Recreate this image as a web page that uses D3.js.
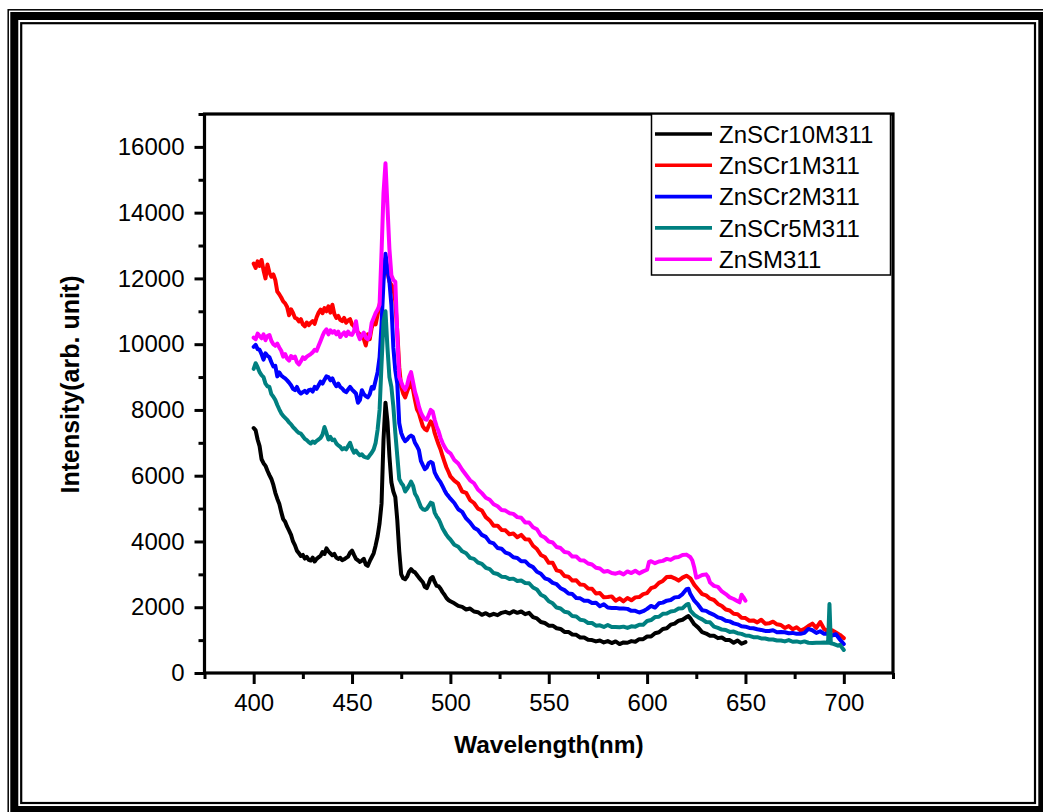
<!DOCTYPE html>
<html>
<head>
<meta charset="utf-8">
<script src="https://cdn.jsdelivr.net/npm/d3@7"></script>
<style>
  html, body { margin: 0; padding: 0; background: #fff; }
  svg { display: block; }
  text { font-family: "Liberation Sans", Arial, Helvetica, sans-serif; fill: #000; }
</style>
</head>
<body>
<svg id="chart" width="1043" height="812"></svg>
<script>
// Photoluminescence spectra, [wavelength nm, intensity]
const seriesNames  = ["ZnSCr10M311", "ZnSCr1M311", "ZnSCr2M311", "ZnSCr5M311", "ZnSM311"];
const seriesColors = ["#000000", "#ff0000", "#0000ff", "#008080", "#ff00ff"];

const znsCr10 = [[400,7450],[401,7380],[402,7100],[403,6900],[404,6500],[405,6380],[406,6300],[407,6150],[408,6020],[409,5900],[410,5720],[411,5480],[412,5300],[413,5150],[414,4900],[415,4680],[416,4600],[417,4450],[418,4330],[419,4200],[420,4000],[421,3880],[422,3720],[423,3640],[424,3560],[425,3590],[426,3480],[427,3530],[428,3440],[429,3420],[430,3510],[431,3390],[432,3470],[433,3520],[434,3560],[435,3680],[436,3620],[437,3790],[438,3700],[439,3640],[440,3580],[441,3620],[442,3510],[443,3470],[444,3500],[445,3430],[446,3460],[447,3500],[448,3540],[449,3660],[450,3720],[451,3590],[452,3470],[453,3430],[454,3380],[455,3420],[456,3470],[457,3300],[458,3260],[459,3400],[460,3520],[461,3640],[462,3880],[463,4160],[464,4550],[465,5150],[466,7100],[467,8220],[468,7650],[469,6600],[470,5800],[471,5520],[472,5350],[473,4650],[474,3700],[475,3000],[476,2880],[477,2850],[478,2930],[479,3080],[480,3160],[481,3090],[482,3060],[483,2980],[484,2900],[485,2830],[486,2760],[487,2620],[488,2580],[489,2720],[490,2880],[491,2920],[492,2770],[493,2650],[494,2640],[495,2560],[496,2460],[497,2380],[498,2280],[499,2220],[500,2180],[502,2120],[504,2040],[506,2010],[508,1930],[510,1960],[512,1870],[514,1850],[516,1770],[518,1820],[520,1750],[522,1800],[524,1760],[526,1830],[528,1860],[530,1810],[532,1880],[534,1830],[536,1870],[538,1790],[540,1830],[542,1700],[544,1660],[546,1550],[548,1520],[550,1440],[552,1440],[554,1360],[556,1340],[558,1250],[560,1250],[562,1170],[564,1160],[566,1080],[568,1080],[570,1010],[572,1000],[574,960],[576,990],[578,930],[580,970],[582,910],[584,960],[586,880],[588,930],[590,920],[592,970],[594,950],[596,1030],[598,1030],[600,1110],[602,1110],[604,1210],[606,1240],[608,1340],[610,1360],[612,1470],[614,1500],[616,1590],[618,1620],[620,1700],[621,1730],[622,1660],[624,1480],[626,1380],[628,1240],[630,1200],[632,1130],[634,1130],[636,1060],[638,1080],[640,1000],[642,1000],[644,920],[646,990],[648,890],[650,940]];

const znsCr1 = [[400,12450],[401,12320],[402,12520],[403,12380],[404,12560],[405,12250],[406,12000],[407,12420],[408,12180],[409,12050],[410,12120],[411,11950],[412,11600],[413,11520],[414,11420],[415,11300],[416,11240],[417,11130],[418,10880],[419,11060],[420,10950],[421,10800],[422,10780],[423,10690],[424,10760],[425,10600],[426,10540],[427,10660],[428,10580],[429,10650],[430,10700],[431,10620],[432,10820],[433,10960],[434,11050],[435,10940],[436,11100],[437,11000],[438,11150],[439,10960],[440,11200],[441,10920],[442,10800],[443,10860],[444,10740],[445,10700],[446,10800],[447,10650],[448,10720],[449,10760],[450,10600],[451,10540],[452,10440],[453,10360],[454,10300],[455,10240],[456,10150],[457,9960],[458,10300],[459,10150],[460,10500],[461,10660],[462,10600],[463,10900],[464,11200],[465,11500],[466,12300],[467,12600],[468,12200],[469,11900],[470,11800],[471,11720],[472,11300],[473,10400],[474,9300],[475,8700],[476,8500],[477,8380],[478,8560],[479,8720],[480,8850],[481,8620],[482,8300],[483,8020],[484,7900],[485,7700],[486,7500],[487,7420],[488,7380],[489,7520],[490,7650],[491,7560],[492,7300],[493,7120],[494,6950],[495,6800],[496,6600],[497,6420],[498,6250],[499,6120],[500,5980],[502,5850],[504,5760],[506,5520],[508,5480],[510,5260],[512,5170],[514,5000],[516,4940],[518,4740],[520,4640],[522,4480],[524,4480],[526,4350],[528,4340],[530,4220],[532,4240],[534,4130],[536,4200],[538,4070],[540,4060],[542,3870],[544,3770],[546,3590],[548,3530],[550,3350],[552,3350],[554,3120],[556,3090],[558,2950],[560,2930],[562,2810],[564,2820],[566,2690],[568,2680],[570,2570],[572,2560],[574,2420],[576,2430],[578,2300],[580,2310],[582,2330],[584,2200],[586,2270],[588,2180],[590,2280],[592,2210],[594,2300],[596,2310],[598,2400],[600,2430],[602,2580],[604,2620],[606,2740],[608,2800],[610,2920],[612,2930],[614,2880],[616,2810],[618,2900],[620,2960],[622,2880],[624,2680],[626,2540],[628,2400],[630,2360],[632,2260],[634,2220],[636,2100],[638,2040],[640,1930],[642,1900],[644,1800],[646,1790],[648,1680],[650,1670],[652,1590],[654,1600],[656,1540],[658,1620],[660,1500],[662,1510],[664,1560],[666,1480],[668,1460],[670,1370],[672,1430],[674,1330],[676,1390],[678,1290],[680,1340],[682,1430],[684,1500],[686,1370],[688,1550],[690,1340],[692,1270],[694,1300],[696,1230],[698,1160],[700,1060]];

const znsCr2 = [[400,9920],[401,9980],[402,9850],[403,9830],[404,9700],[405,9530],[406,9720],[407,9650],[408,9600],[409,9450],[410,9320],[411,9340],[412,9020],[413,9140],[414,9050],[415,9000],[416,8960],[417,8900],[418,8830],[419,8750],[420,8640],[421,8600],[422,8700],[423,8560],[424,8500],[425,8540],[426,8580],[427,8520],[428,8600],[429,8620],[430,8560],[431,8700],[432,8640],[433,8750],[434,8860],[435,8800],[436,8920],[437,9020],[438,9000],[439,8900],[440,8960],[441,8820],[442,8720],[443,8800],[444,8700],[445,8650],[446,8580],[447,8540],[448,8620],[449,8700],[450,8620],[451,8560],[452,8500],[453,8220],[454,8300],[455,8600],[456,8480],[457,8420],[458,8380],[459,8480],[460,8700],[461,8650],[462,8900],[463,9150],[464,9600],[465,10600],[466,11900],[467,12750],[468,12300],[469,11900],[470,11200],[471,9900],[472,9200],[473,8800],[474,7600],[475,7300],[476,7150],[477,7050],[478,7100],[479,7180],[480,7220],[481,7180],[482,7000],[483,6900],[484,6780],[485,6450],[486,6320],[487,6200],[488,6250],[489,6380],[490,6420],[491,6380],[492,6100],[493,5980],[494,5880],[495,5800],[496,5680],[497,5560],[498,5450],[499,5380],[500,5300],[502,5170],[504,4980],[506,4900],[508,4700],[510,4580],[512,4420],[514,4350],[516,4200],[518,4140],[520,3980],[522,3940],[524,3800],[526,3780],[528,3660],[530,3620],[532,3520],[534,3500],[536,3400],[538,3400],[540,3280],[542,3220],[544,3080],[546,3020],[548,2880],[550,2840],[552,2740],[554,2700],[556,2580],[558,2520],[560,2420],[562,2400],[564,2280],[566,2270],[568,2200],[570,2200],[572,2130],[574,2140],[576,2030],[578,2090],[580,1990],[582,1980],[584,1980],[586,1960],[588,1960],[590,1950],[592,1890],[594,1890],[596,1840],[598,1880],[600,1950],[602,2040],[604,1990],[606,2120],[608,2140],[610,2200],[612,2220],[614,2300],[616,2310],[618,2400],[620,2550],[621,2560],[622,2400],[624,2200],[626,2070],[628,1910],[630,1890],[632,1820],[634,1770],[636,1690],[638,1660],[640,1590],[642,1570],[644,1510],[646,1480],[648,1420],[650,1410],[652,1370],[654,1360],[656,1330],[658,1310],[660,1280],[662,1280],[664,1300],[666,1240],[668,1250],[670,1240],[672,1210],[674,1220],[676,1190],[678,1190],[680,1220],[682,1340],[684,1300],[686,1220],[688,1270],[690,1190],[692,1190],[694,1140],[696,1180],[698,1020],[700,880]];

const znsCr5 = [[400,9250],[401,9420],[402,9300],[403,9150],[404,9060],[405,9000],[406,8800],[407,8720],[408,8700],[409,8480],[410,8400],[411,8300],[412,8150],[413,8020],[414,7900],[415,7820],[416,7760],[417,7700],[418,7620],[419,7560],[420,7480],[421,7420],[422,7350],[423,7300],[424,7280],[425,7200],[426,7120],[427,7080],[428,7020],[429,6980],[430,7040],[431,7000],[432,7060],[433,7100],[434,7150],[435,7250],[436,7480],[437,7300],[438,7100],[439,7180],[440,7080],[441,7100],[442,6980],[443,6920],[444,6880],[445,6800],[446,6840],[447,6800],[448,6900],[449,7000],[450,6820],[451,6700],[452,6760],[453,6680],[454,6620],[455,6650],[456,6580],[457,6560],[458,6540],[459,6620],[460,6700],[461,6800],[462,7000],[463,7400],[464,8000],[465,9400],[466,10700],[467,11000],[468,9900],[469,9000],[470,8700],[471,8100],[472,7300],[473,6600],[474,5900],[475,5780],[476,5700],[477,5520],[478,5600],[479,5700],[480,5820],[481,5700],[482,5450],[483,5350],[484,5200],[485,5050],[486,4980],[487,4960],[488,4990],[489,5080],[490,5180],[491,5150],[492,4880],[493,4760],[494,4680],[495,4550],[496,4400],[497,4300],[498,4200],[499,4120],[500,4060],[502,3900],[504,3840],[506,3700],[508,3640],[510,3500],[512,3470],[514,3360],[516,3320],[518,3200],[520,3160],[522,3040],[524,3010],[526,2930],[528,2920],[530,2860],[532,2870],[534,2800],[536,2810],[538,2740],[540,2730],[542,2600],[544,2540],[546,2380],[548,2320],[550,2180],[552,2120],[554,1990],[556,1960],[558,1860],[560,1840],[562,1730],[564,1720],[566,1620],[568,1600],[570,1520],[572,1520],[574,1440],[576,1450],[578,1400],[580,1460],[582,1400],[584,1400],[586,1390],[588,1410],[590,1370],[592,1420],[594,1410],[596,1470],[598,1470],[600,1580],[602,1610],[604,1700],[606,1710],[608,1800],[610,1810],[612,1870],[614,1890],[616,1960],[618,1970],[620,2080],[621,2100],[622,1900],[624,1770],[626,1690],[628,1630],[630,1550],[632,1540],[634,1410],[636,1370],[638,1320],[640,1310],[642,1250],[644,1260],[646,1210],[648,1190],[650,1140],[652,1130],[654,1090],[656,1090],[658,1050],[660,1050],[662,1020],[664,1020],[666,990],[668,990],[670,960],[672,1000],[674,950],[676,960],[678,930],[680,960],[682,920],[684,910],[686,920],[688,920],[690,930],[692,920],[692.7,2100],[693.4,900],[695,880],[697,830],[698,860],[699,780],[700,700]];

const znsM = [[400,10200],[401,10150],[402,10320],[403,10250],[404,10180],[405,10300],[406,10120],[407,10250],[408,10280],[409,10100],[410,10000],[411,9950],[412,10020],[413,9900],[414,9800],[415,9620],[416,9700],[417,9560],[418,9500],[419,9640],[420,9580],[421,9620],[422,9450],[423,9380],[424,9480],[425,9600],[426,9550],[427,9620],[428,9660],[429,9700],[430,9750],[431,9830],[432,9800],[433,9950],[434,10100],[435,10250],[436,10380],[437,10450],[438,10300],[439,10420],[440,10350],[441,10400],[442,10300],[443,10380],[444,10220],[445,10300],[446,10360],[447,10250],[448,10380],[449,10300],[450,10280],[451,10400],[452,10700],[453,10300],[454,10150],[455,10280],[456,10350],[457,10200],[458,10150],[459,10250],[460,10650],[461,10800],[462,10950],[463,11050],[464,11200],[465,12800],[466,14600],[467,15500],[468,14200],[469,12900],[470,12100],[471,11950],[472,11900],[473,10300],[474,9000],[475,8850],[476,8700],[477,8620],[478,8750],[479,9000],[480,9150],[481,8850],[482,8550],[483,8350],[484,8100],[485,7920],[486,7800],[487,7720],[488,7700],[489,7850],[490,8000],[491,7950],[492,7700],[493,7500],[494,7350],[495,7150],[496,7000],[497,6880],[498,6780],[499,6720],[500,6680],[502,6480],[504,6370],[506,6180],[508,6020],[510,5860],[512,5770],[514,5580],[516,5470],[518,5330],[520,5270],[522,5130],[524,5070],[526,4960],[528,4940],[530,4860],[532,4840],[534,4740],[536,4720],[538,4580],[540,4580],[542,4430],[544,4370],[546,4180],[548,4120],[550,4000],[552,3970],[554,3830],[556,3800],[558,3680],[560,3660],[562,3540],[564,3540],[566,3430],[568,3420],[570,3330],[572,3300],[574,3200],[576,3180],[578,3080],[580,3100],[582,3040],[584,3020],[586,3060],[588,3000],[590,3090],[592,3040],[594,3110],[596,3030],[598,3090],[600,3140],[601,3380],[602,3400],[604,3340],[606,3390],[608,3410],[610,3470],[612,3440],[614,3510],[616,3530],[618,3590],[620,3600],[621,3560],[622,3520],[623,3420],[624,3200],[625,2900],[626,2920],[628,2980],[630,3000],[631,2920],[632,2750],[634,2650],[636,2620],[638,2480],[640,2400],[642,2300],[644,2250],[646,2180],[647,2150],[648,2380],[649,2300],[650,2200]];

const seriesData = [znsCr10, znsCr1, znsCr2, znsCr5, znsM];

// Axis ticks
const xMajorTicks = [400, 450, 500, 550, 600, 650, 700];
const xMinorTicks = [375, 425, 475, 525, 575, 625, 675, 725];
const yMajorTicks = [0, 2000, 4000, 6000, 8000, 10000, 12000, 14000, 16000];
const yMinorTicks = [1000, 3000, 5000, 7000, 9000, 11000, 13000, 15000, 17000];

const xLabel = "Wavelength(nm)";
const yLabel = "Intensity(arb. unit)";

const svg = d3.select("#chart");

// Decorative double frame around the figure
svg.append("rect").attr("x", 0).attr("y", 0).attr("width", 1043).attr("height", 812).attr("fill", "#fff");
svg.append("rect").attr("x", 8.2).attr("y", 9.8).attr("width", 1060).attr("height", 830)
  .attr("fill", "none").attr("stroke", "#000").attr("stroke-width", 1.5);
svg.append("rect").attr("x", 14.3).attr("y", 16).attr("width", 1028).attr("height", 794)
  .attr("fill", "none").attr("stroke", "#000").attr("stroke-width", 8);
svg.append("rect").attr("x", 21.2).attr("y", 23.2).attr("width", 1013.8).attr("height", 779.8)
  .attr("fill", "none").attr("stroke", "#000").attr("stroke-width", 2.2);

// Plot area
const plot = { left: 204.5, right: 893, top: 114, bottom: 673 };
const x = d3.scaleLinear().domain([375, 725]).range([plot.left, plot.right]);
const y = d3.scaleLinear().domain([0, 17000]).range([plot.bottom, plot.top]);

// Spectra
const line = d3.line().x(d => x(d[0])).y(d => y(d[1]));
const curves = svg.append("g").attr("class", "curves");
seriesData.forEach((s, i) => {
  curves.append("path")
    .datum(s)
    .attr("d", line)
    .attr("fill", "none")
    .attr("stroke", seriesColors[i])
    .attr("stroke-width", 4)
    .attr("stroke-linejoin", "round")
    .attr("stroke-linecap", "round");
});

// Axes
function styleAxis(g) {
  g.select(".domain").remove();
  g.selectAll(".tick line").attr("stroke", "#000").attr("stroke-width", 3);
  g.selectAll(".tick text").attr("font-size", 24).attr("fill", "#000")
    .style("font-family", "'Liberation Sans', Arial, sans-serif");
}

svg.append("g").attr("transform", `translate(0,${plot.bottom})`)
  .call(d3.axisBottom(x).tickValues(xMinorTicks).tickSize(6).tickFormat(""))
  .call(styleAxis);
svg.append("g").attr("transform", `translate(0,${plot.bottom})`)
  .call(d3.axisBottom(x).tickValues(xMajorTicks).tickSize(11).tickPadding(10).tickFormat(d3.format("d")))
  .call(styleAxis);

svg.append("g").attr("transform", `translate(${plot.left},0)`)
  .call(d3.axisLeft(y).tickValues(yMinorTicks).tickSize(6).tickFormat(""))
  .call(styleAxis);
svg.append("g").attr("transform", `translate(${plot.left},0)`)
  .call(d3.axisLeft(y).tickValues(yMajorTicks).tickSize(10).tickPadding(10).tickFormat(d3.format("d")))
  .call(styleAxis);

// Plot box
svg.append("rect")
  .attr("x", plot.left).attr("y", plot.top)
  .attr("width", plot.right - plot.left).attr("height", plot.bottom - plot.top)
  .attr("fill", "none").attr("stroke", "#000").attr("stroke-width", 3.2);

// Axis titles
svg.append("text")
  .attr("x", (plot.left + plot.right) / 2).attr("y", 753)
  .attr("text-anchor", "middle").attr("font-size", 24.5).attr("font-weight", "bold")
  .text(xLabel);
svg.append("text")
  .attr("transform", `translate(79,${(plot.top + plot.bottom) / 2 - 9}) rotate(-90)`)
  .attr("text-anchor", "middle").attr("font-size", 25).attr("font-weight", "bold")
  .text(yLabel);

// Legend
const legend = svg.append("g").attr("class", "legend");
legend.append("rect")
  .attr("x", 651.5).attr("y", 114).attr("width", 239).attr("height", 161)
  .attr("fill", "#fff").attr("stroke", "#000").attr("stroke-width", 1.5);
seriesNames.forEach((name, i) => {
  const ly = 134 + i * 31.3;
  legend.append("line")
    .attr("x1", 655).attr("x2", 712).attr("y1", ly).attr("y2", ly)
    .attr("stroke", seriesColors[i]).attr("stroke-width", 3.6);
  legend.append("text")
    .attr("x", 719).attr("y", ly).attr("dy", "0.36em")
    .attr("font-size", 24)
    .text(name);
});
</script>
</body>
</html>
